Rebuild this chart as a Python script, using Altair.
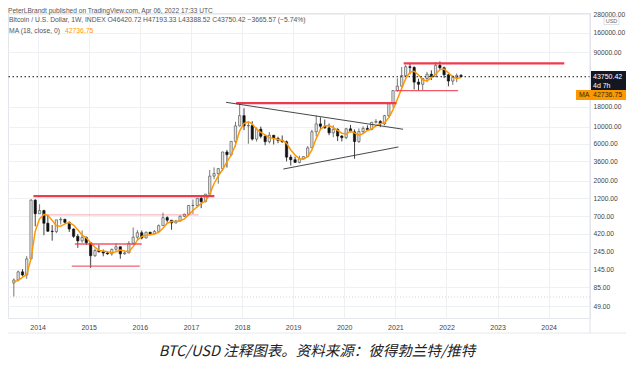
import altair as alt
import pandas as pd

# ---------------- data (monthly candles) ----------------
opens = [97, 106, 135, 123, 198, 1130,
         755, 830, 570, 450, 445, 630, 640, 585, 480, 387, 338, 375,
         320, 218, 254, 245, 236, 230, 263, 284, 230, 236, 314, 377,
         430, 368, 437, 416, 448, 531, 673, 624, 574, 608, 700, 745,
         965, 965, 1190, 1080, 1350, 2300, 2480, 2875, 4700, 4340, 6450, 10200,
         13800, 10200, 10300, 6900, 9240, 7490, 6390, 7730, 7030, 6630, 6370, 4040,
         3740, 3460, 3850, 4100, 5320, 8570, 10800, 10080, 9600, 8290, 9200, 7550,
         7200, 9350, 8540, 6410, 8620, 9450, 9140, 11350, 11650, 10780, 13800, 19700,
         29000, 33100, 45200, 58800, 57700, 37300, 35000, 41500, 47100, 43800, 61300, 57000,
         46300, 38500, 43200, 45500]
highs = [111, 140, 146, 215, 1163, 1160,
         1000, 850, 720, 540, 630, 680, 650, 600, 490, 415, 460, 385,
         320, 270, 300, 262, 247, 268, 315, 285, 246, 335, 502, 465,
         460, 445, 440, 467, 549, 780, 700, 626, 630, 720, 755, 975,
         1150, 1200, 1290, 1350, 2760, 2980, 2920, 4750, 5000, 6470, 11500, 19700,
         17200, 11800, 11700, 9750, 9990, 7770, 8500, 7760, 7410, 7680, 6600, 4350,
         4110, 4210, 4130, 5600, 9100, 13900, 13150, 12300, 10950, 10400, 9500, 7750,
         9600, 10500, 9190, 9460, 10070, 10380, 11430, 12470, 12070, 14100, 19800, 29300,
         41900, 58300, 61700, 64800, 59500, 41300, 42400, 50500, 52900, 67000, 69000, 59100,
         47900, 45800, 48200, 47400]
lows = [65, 102, 118, 110, 198, 520,
        750, 400, 440, 340, 425, 550, 565, 440, 370, 275, 320, 300,
        152, 210, 240, 214, 225, 218, 252, 199, 225, 235, 300, 350,
        354, 365, 400, 413, 439, 531, 580, 470, 570, 606, 685, 745,
        750, 915, 890, 1060, 1350, 2100, 1840, 2680, 2970, 4150, 5500, 10000,
        9000, 6000, 6600, 6400, 7050, 5750, 6070, 5880, 6100, 6200, 3560, 3150,
        3400, 3370, 3730, 4100, 5300, 7450, 9100, 9400, 7740, 7300, 6500, 6430,
        6870, 8450, 3850, 6150, 8120, 8900, 8980, 10950, 9850, 10370, 13200, 17600,
        28100, 32300, 44900, 47000, 30000, 28800, 29300, 37300, 39600, 43300, 53300, 42000,
        32900, 34300, 37200, 43400]
closes = [106, 135, 123, 198, 1130, 755,
          830, 570, 450, 445, 630, 640, 585, 480, 387, 338, 375, 320,
          218, 254, 245, 236, 230, 263, 284, 230, 236, 314, 377, 430,
          368, 437, 416, 448, 531, 673, 624, 574, 608, 700, 745, 965,
          965, 1190, 1080, 1350, 2300, 2480, 2875, 4700, 4340, 6450, 10200, 13800,
          10200, 10300, 6900, 9240, 7490, 6390, 7730, 7030, 6630, 6370, 4040, 3740,
          3460, 3850, 4100, 5320, 8570, 10800, 10080, 9600, 8290, 9200, 7550, 7200,
          9350, 8540, 6410, 8620, 9450, 9140, 11350, 11650, 10780, 13800, 19700, 29000,
          33100, 45200, 58800, 57700, 37300, 35000, 41500, 47100, 43800, 61300, 57000, 46300,
          38500, 43200, 45500, 43750.42]
ma18 = [100, 105, 115, 125, 200, 450,
        650, 740, 720, 620, 530, 520, 560, 580, 540, 470, 400, 370,
        320, 280, 255, 250, 245, 238, 245, 258, 250, 245, 285, 345,
        385, 400, 405, 415, 435, 490, 570, 600, 600, 610, 650, 730,
        830, 930, 1020, 1100, 1350, 1850, 2300, 2800, 3500, 4300, 5800, 8800,
        11000, 11500, 10800, 9200, 8400, 7800, 7200, 7000, 6800, 6600, 6100, 5000,
        4300, 3850, 3800, 4100, 5000, 7000, 9200, 10200, 10300, 9700, 8900, 8200,
        8000, 8700, 8300, 7700, 8100, 8900, 9300, 10200, 10900, 11200, 13000, 16500,
        22500, 31000, 41000, 50000, 51500, 46000, 40000, 38500, 42500, 47000, 54000, 55000,
        49000, 43500, 41500, 42737]

# horizontal red levels
red_start = ["2021-03-01", "2021-01-01", "2017-11-20", "2013-12-02", "2014-03-05", "2014-09-24", "2014-09-02"]
red_end = ["2024-04-22", "2022-03-25", "2021-01-08", "2017-06-17", "2017-02-25", "2016-01-15", "2016-01-01"]
red_price = [64800, 28900, 20000, 1270, 730, 308, 160]
red_width = [2.2, 1.3, 2.2, 2.2, 1.0, 1.5, 1.2]
red_opacity = [1.0, 0.85, 1.0, 1.0, 0.45, 0.85, 0.8]

# black trendlines
tl_start = ["2017-09-09", "2018-10-23"]
tl_end = ["2021-02-25", "2021-01-22"]
tl_p1 = [20500, 2840]
tl_p2 = [9230, 5460]

last_close = 43750.42
last_ma = 42736.75
y_ticks = [49, 85, 145, 245, 420, 700, 1200, 2000, 3600, 6000, 10000, 18000, 90000, 160000, 280000]
years = list(range(2014, 2025))

# ---------------- frames ----------------
months = pd.date_range("2013-07-01", periods=len(closes), freq="MS") + pd.Timedelta(days=14)
df = pd.DataFrame({"date": months, "open": opens, "high": highs, "low": lows,
                   "close": closes, "ma": ma18})
df["dir"] = ["up" if c >= o else "down" for o, c in zip(opens, closes)]

red_df = pd.DataFrame({"s": pd.to_datetime(red_start), "e": pd.to_datetime(red_end),
                       "p": red_price, "w": red_width, "op": red_opacity})
tl_df = pd.DataFrame({"s": pd.to_datetime(tl_start), "e": pd.to_datetime(tl_end),
                      "p1": tl_p1, "p2": tl_p2})
one = pd.DataFrame({"k": [0]})

W, H = 582, 305
PAD_R = 618 - W
FONT = "Liberation Sans"
GRID = "#eef0f4"

xs = alt.Scale(domain=[alt.DateTime(year=2013, month=7, date=9),
                       alt.DateTime(year=2024, month=9, date=17)])
ys = alt.Scale(type="log", domain=[34.4, 289000], nice=False)

xaxis = alt.Axis(values=[alt.DateTime(year=y, month=1, date=1) for y in years],
                 format="%Y", title=None, grid=True, gridColor=GRID, domain=False,
                 ticks=False, labelFontSize=7, labelColor="#444", labelFont=FONT,
                 labelPadding=5, labelFlush=False)
yaxis = alt.Axis(orient="right", values=y_ticks, format=".2f", title=None, grid=True,
                 gridColor=GRID, domain=False, ticks=False, labelFontSize=6.7,
                 labelColor="#444", labelFont=FONT, labelPadding=3)

base = alt.Chart(df)

wick = base.mark_rule(strokeWidth=0.8).encode(
    x=alt.X("date:T", scale=xs, axis=xaxis),
    y=alt.Y("low:Q", scale=ys, axis=yaxis),
    y2="high:Q",
    color=alt.Color("dir:N", scale=alt.Scale(domain=["up", "down"], range=["#555", "#111"]), legend=None),
)
body = base.mark_bar(size=2.3, strokeWidth=0.6).encode(
    x="date:T", y="open:Q", y2="close:Q",
    fill=alt.Fill("dir:N", scale=alt.Scale(domain=["up", "down"], range=["#e6e6e6", "#111111"]), legend=None),
    stroke=alt.Stroke("dir:N", scale=alt.Scale(domain=["up", "down"], range=["#444444", "#111111"]), legend=None),
)
ma_line = base.mark_line(color="#ff9800", strokeWidth=1.5).encode(x="date:T", y="ma:Q")

red = alt.Chart(red_df).mark_rule(color="#ef3b4f").encode(
    x="s:T", x2="e:T", y="p:Q",
    strokeWidth=alt.StrokeWidth("w:Q", scale=None),
    opacity=alt.Opacity("op:Q", scale=None),
)
trend = alt.Chart(tl_df).mark_rule(color="#333", strokeWidth=0.9).encode(
    x="s:T", x2="e:T", y="p1:Q", y2="p2:Q")

price_line = alt.Chart(pd.DataFrame({"p": [last_close]})).mark_rule(
    color="#111", strokeDash=[1.5, 2.5], strokeWidth=1).encode(y="p:Q")
low_line = alt.Chart(pd.DataFrame({"p": [64]})).mark_rule(
    color="#c9ccd3", strokeDash=[1, 2], strokeWidth=0.8).encode(y="p:Q")

def txt(text, x, y, size=7, color="#555", align="left", baseline="middle", font=FONT, **kw):
    return alt.Chart(one).mark_text(text=text, fontSize=size, color=color, align=align,
                                    baseline=baseline, font=font, **kw).encode(
        x=alt.value(x), y=alt.value(y))

def box(x1, x2, y1, y2, fill, stroke=None):
    kw = {"fill": fill}
    if stroke:
        kw["stroke"] = stroke
        kw["strokeWidth"] = 0.7
    return alt.Chart(one).mark_rect(**kw).encode(
        x=alt.value(x1), x2=alt.value(x2), y=alt.value(y1), y2=alt.value(y2))

RX = W + PAD_R  # right edge of canvas in plot coords
sep = alt.Chart(one).mark_rule(color="#dfe2e8", strokeWidth=1).encode(
    x=alt.value(W), y=alt.value(0), y2=alt.value(H + 15))
bottom_frame = alt.Chart(one).mark_rule(color="#e6e8ec", strokeWidth=1).encode(
    x=alt.value(0), x2=alt.value(RX), y=alt.value(H + 15))

header = txt("PeterLBrandt published on TradingView.com, Apr 06, 2022 17:33 UTC",
             0, -5, size=6.6, color="#555", baseline="top")
leg1 = txt("Bitcoin / U.S. Dollar, 1W, INDEX  O46420.72  H47193.33  L43388.52  C43750.42  \u22123665.57 (\u22125.74%)",
           1, 6.5, size=6.8, color="#555")
leg2a = txt("MA (18, close, 0)", 1, 17.5, size=6.8, color="#555")
leg2b = txt("42736.75", 57, 17.5, size=6.8, color="#ff9800")

usd = box(W + 14, W + 29, 4, 11.5, "#ffffff", "#cfd3da")
usd_t = txt("USD", W + 21.5, 8, size=5.5, color="#666", align="center")

tag_black = box(W + 1, RX, 58, 77, "#131722")
tag_t1 = txt(f"{last_close:.2f}", W + 3, 64, size=7, color="#ffffff", align="left")
tag_t2 = txt("4d 7h", W + 3, 72.5, size=7, color="#ffffff", align="left")
tag_orange = box(W - 14, RX, 77, 87, "#ff9800")
tag_o1 = txt("MA", W - 11, 82.2, size=7, color="#3b2a10", align="left")
tag_o2 = txt(f"{last_ma:.2f}", W + 3, 82.2, size=7, color="#3b2a10", align="left")

caption = txt("BTC/USD 注释图表。资料来源：彼得勃兰特/推特", 309, 339, size=14.5,
              color="#222", align="center", font="Noto Sans CJK SC", fontStyle="italic")

chart = alt.layer(
    low_line, wick, body, ma_line, red, trend, price_line, sep, bottom_frame,
    header, leg1, leg2a, leg2b, usd, usd_t,
    tag_black, tag_t1, tag_t2, tag_orange, tag_o1, tag_o2, caption,
).properties(
    width=W, height=H,
    autosize=alt.AutoSizeParams(type="none"),
    padding={"left": 0, "top": 5, "right": PAD_R, "bottom": 44},
    background="#ffffff",
).configure_view(stroke="#e3e6eb")

chart.save("out.html", embed_options={"renderer": "svg", "actions": False})
